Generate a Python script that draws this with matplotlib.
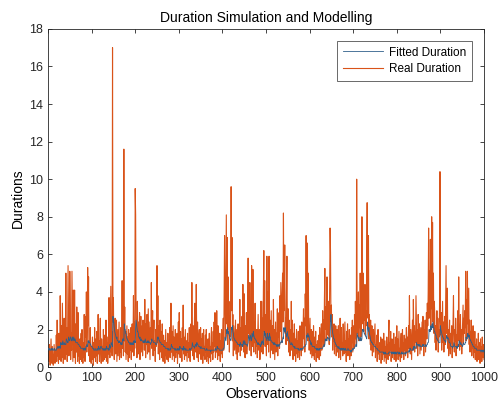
import numpy as np
import matplotlib
matplotlib.use("Agg")
import matplotlib.pyplot as plt

plt.rcParams['font.family'] = ['Liberation Sans', 'DejaVu Sans']

# real durations, observations 1..1000 (rows of 20)
real_duration = [
    0.9,0.3,1.2,0.5,0.1,0.8,1.5,0.4,0.2,1.1,0.6,0.1,0.3,1.2,0.7,0.2,0.9,0.4,1.7,0.3,
    2.5,0.6,1.4,0.2,1.8,0.9,0.4,3.8,1.1,0.3,2.2,0.5,3.4,1.6,0.2,0.8,2.6,1.3,0.4,1.9,
    5.0,0.7,2.1,0.3,1.5,5.4,2.8,0.6,1.2,5.1,3.3,0.4,1.8,0.9,5.1,2.4,0.3,4.1,1.6,0.5,
    4.1,1.2,0.2,2.3,0.8,3.2,1.4,0.3,2.9,0.6,1.1,0.2,1.5,0.4,0.9,1.8,0.3,2.0,0.7,0.2,
    1.3,0.5,2.8,0.9,0.3,2.7,1.6,4.0,0.8,1.9,5.3,2.2,4.8,0.6,1.4,0.3,2.1,0.9,0.2,1.1,
    0.4,1.6,0.7,0.1,1.3,0.5,2.1,0.8,0.3,1.5,0.6,1.9,0.2,1.0,2.8,0.7,1.4,0.3,1.8,2.6,
    0.9,0.2,1.5,0.6,1.1,0.3,2.0,0.8,0.4,1.7,0.5,1.2,2.5,0.3,0.9,1.6,0.2,1.3,0.7,3.7,
    1.1,0.5,2.2,4.3,0.8,1.9,0.6,17.0,2.4,3.7,1.0,0.4,1.8,2.6,0.7,1.4,2.5,0.3,1.1,2.0,
    0.6,1.5,2.4,0.4,1.2,0.8,2.1,0.5,1.7,4.6,1.0,3.2,0.6,11.6,1.4,3.2,0.8,1.9,0.4,1.3,
    2.2,0.7,1.6,0.3,2.0,1.1,0.5,1.8,0.9,2.1,0.4,1.5,2.3,0.8,1.2,3.8,0.6,2.4,1.0,9.5,
    8.1,2.6,1.3,0.5,3.5,1.8,0.7,2.4,1.1,2.9,0.4,1.9,2.7,0.8,1.5,2.2,0.6,2.5,1.3,2.0,
    0.9,3.6,1.6,0.5,2.3,1.2,2.8,0.7,1.9,3.1,0.8,2.4,1.3,0.4,2.1,1.5,4.5,1.0,2.2,3.0,
    0.6,1.8,2.5,0.9,1.4,0.3,2.0,1.1,2.6,5.4,1.3,3.8,0.7,2.2,1.6,0.4,2.5,1.2,0.8,1.9,
    0.5,2.3,1.0,0.3,1.7,0.8,1.4,0.2,1.1,2.0,0.6,1.3,0.4,0.9,1.8,0.3,1.2,0.7,2.1,0.5,
    1.5,3.4,0.8,1.9,0.4,1.2,2.2,0.6,1.6,0.3,1.0,2.0,0.5,1.4,0.8,1.8,0.2,1.1,2.4,0.7,
    2.9,1.3,0.5,1.9,0.9,1.5,0.3,2.1,1.0,3.3,0.7,1.6,0.4,1.2,2.0,0.6,1.4,0.9,0.3,1.8,
    0.8,1.3,0.5,2.1,1.0,0.3,1.7,2.3,0.9,4.5,1.4,0.6,2.2,1.1,0.4,2.6,3.4,1.2,0.8,4.4,
    1.9,0.5,2.4,1.0,0.3,1.6,2.0,0.7,1.2,2.1,0.4,1.5,0.9,1.8,0.2,1.3,2.0,0.6,1.1,0.4,
    1.7,0.8,2.0,0.3,1.2,0.6,1.5,0.2,0.9,1.8,0.5,1.1,0.3,1.6,2.1,0.7,1.3,0.4,1.9,0.8,
    2.4,1.1,2.9,0.5,1.5,0.8,3.0,1.2,0.4,2.2,1.6,0.6,1.0,1.8,0.3,1.4,0.7,2.0,1.1,0.5,
    1.8,2.6,0.9,4.0,7.0,3.1,1.5,4.9,8.1,2.3,6.9,1.2,4.8,2.0,3.5,0.8,2.7,1.6,3.9,9.6,
    3.0,6.9,1.4,2.8,0.6,2.2,1.5,0.9,1.8,2.5,0.7,1.3,2.0,0.4,1.6,2.3,0.8,1.9,1.2,3.6,
    0.6,2.1,1.4,0.9,2.7,1.1,4.4,1.7,0.8,3.9,1.3,0.5,2.2,1.0,2.9,0.7,1.6,3.4,5.8,1.8,
    2.5,0.9,4.5,1.4,2.0,0.6,5.4,2.3,1.1,5.2,1.7,0.8,2.4,1.3,3.4,0.7,1.9,1.1,2.0,0.5,
    1.6,2.8,0.9,1.4,2.0,0.4,1.2,3.5,0.8,3.5,1.5,2.6,0.7,4.0,6.2,1.9,4.6,1.1,2.8,1.5,
    0.6,5.9,2.3,1.2,4.0,0.8,5.9,1.6,2.5,0.5,1.9,3.0,0.9,1.4,2.2,0.7,3.6,1.3,2.0,0.4,
    1.5,2.4,0.8,1.8,1.2,3.1,0.6,2.2,1.6,2.9,1.0,3.8,1.9,4.5,2.7,1.3,3.9,5.0,2.4,8.2,
    3.0,4.1,6.5,1.8,2.6,1.2,4.0,5.9,2.2,1.4,3.1,0.8,2.5,1.7,0.6,2.0,1.3,3.5,0.9,2.5,
    1.1,0.4,1.8,0.9,2.3,0.6,1.5,0.3,1.2,2.0,0.7,1.4,0.5,1.9,0.8,1.3,0.4,2.2,1.0,1.6,
    0.6,2.4,1.3,0.9,2.0,3.1,1.5,2.6,0.8,3.9,2.2,7.0,1.7,4.3,6.6,1.4,5.0,2.1,0.9,1.8,
    2.6,0.7,1.5,2.0,0.5,1.3,1.9,0.6,2.2,1.1,0.4,1.6,0.8,1.9,0.3,1.2,0.7,1.4,0.5,1.0,
    1.7,0.4,2.1,1.2,0.6,1.6,2.3,0.9,1.4,3.0,1.8,2.5,1.1,3.6,5.25,2.0,3.2,1.5,2.6,4.8,
    2.3,1.7,3.5,2.9,1.2,4.1,7.4,6.1,2.4,3.3,1.6,2.8,0.9,2.0,1.4,2.3,0.7,1.8,1.1,2.2,
    0.6,1.5,2.0,0.8,1.3,2.2,0.5,1.7,1.0,2.6,0.4,1.6,2.1,0.9,1.3,0.6,2.3,1.1,0.7,1.5,
    2.4,0.8,1.4,0.3,1.9,1.0,2.3,0.6,1.5,0.9,2.0,0.4,1.2,1.7,0.6,2.1,1.3,2.5,0.8,1.6,
    2.2,1.0,2.8,1.5,3.5,2.0,1.2,10.0,3.2,1.8,2.6,4.0,1.4,3.3,2.1,5.0,2.7,1.6,3.8,8.0,
    4.2,2.3,5.0,1.9,3.6,2.5,4.4,1.7,3.0,2.2,6.0,8.75,3.4,2.6,7.0,1.5,2.8,2.0,1.2,2.5,
    0.9,1.8,2.2,0.6,1.5,2.0,0.8,1.3,1.9,2.3,0.5,1.2,0.9,1.7,0.3,1.4,2.0,0.7,1.1,0.4,
    1.3,0.8,1.6,0.2,1.0,1.5,0.4,1.2,0.7,1.8,0.3,0.9,1.4,0.5,1.1,0.2,1.6,0.8,1.2,0.4,
    1.7,2.5,0.6,1.3,0.9,1.9,0.3,1.1,1.5,0.5,1.4,0.8,1.8,0.4,1.2,0.7,1.6,0.3,1.0,2.2,
    0.7,1.5,0.4,1.2,1.9,0.6,1.0,0.3,1.4,1.8,0.5,1.1,2.0,0.8,1.3,0.4,1.7,0.9,1.5,0.6,
    1.2,2.1,0.8,1.6,0.5,1.3,2.2,1.0,3.8,1.4,0.7,2.0,1.1,0.4,1.8,2.5,0.9,3.6,1.5,2.2,
    0.8,1.9,1.3,3.8,2.4,1.0,2.0,0.6,2.8,1.7,1.2,2.3,0.7,1.5,2.1,0.9,1.6,2.4,1.1,2.7,
    1.4,0.6,2.0,1.2,2.5,0.8,1.8,2.9,1.5,3.4,2.2,4.0,7.4,2.6,5.1,3.3,6.8,2.0,4.4,8.0,
    3.1,7.7,2.4,5.0,1.8,3.5,2.8,1.3,2.2,0.9,1.9,3.0,1.4,2.6,0.8,2.0,1.6,3.2,10.4,2.5,
    1.7,2.9,0.9,2.1,3.5,1.3,2.4,0.8,1.9,2.7,1.2,3.3,5.4,1.8,2.2,4.2,1.0,2.0,0.6,1.5,
    2.5,1.1,0.7,1.8,1.3,2.2,0.5,1.6,2.4,3.8,1.2,0.8,2.0,1.4,2.6,0.6,1.7,1.0,2.3,3.0,
    1.4,4.8,2.2,0.9,1.6,2.8,1.1,2.0,0.7,1.5,2.4,3.3,1.3,2.6,1.8,3.0,2.1,5.1,1.4,3.6,
    2.3,5.1,1.6,2.9,4.2,1.2,2.5,0.8,1.9,1.3,2.5,0.6,1.7,1.0,2.2,0.5,1.4,0.8,1.9,0.4,
    1.2,0.7,1.5,0.3,1.1,0.6,1.8,0.4,1.3,0.9,0.2,1.5,0.7,1.1,0.3,1.6,0.8,0.5,1.2,0.4,
]

# fitted durations, same observations
fitted_duration = [
    1.0,0.9,0.9,1.0,0.9,0.9,0.9,1.0,0.9,0.9,1.0,0.9,0.9,0.9,1.0,0.9,0.9,0.9,0.9,1.0,
    1.0,1.1,1.0,1.1,1.0,1.1,1.1,1.0,1.3,1.2,1.2,1.3,1.2,1.4,1.3,1.2,1.2,1.3,1.2,1.2,
    1.2,1.5,1.4,1.4,1.3,1.3,1.6,1.5,1.4,1.4,1.6,1.6,1.5,1.4,1.4,1.6,1.5,1.4,1.6,1.5,
    1.4,1.5,1.4,1.3,1.3,1.3,1.3,1.3,1.2,1.2,1.2,1.1,1.1,1.1,1.0,1.0,1.0,1.0,1.0,1.0,
    0.9,1.0,0.9,1.0,1.0,0.9,1.1,1.1,1.2,1.1,1.1,1.4,1.3,1.4,1.3,1.3,1.2,1.2,1.1,1.1,
    1.1,1.0,1.0,1.0,0.9,0.9,0.9,1.0,0.9,0.9,0.9,0.9,1.0,0.9,0.9,1.1,1.0,1.0,0.9,1.0,
    1.1,1.1,1.0,1.0,1.0,0.9,0.9,1.0,0.9,0.9,1.0,0.9,0.9,1.1,1.0,1.0,1.0,0.9,1.0,0.9,
    1.2,1.1,1.0,1.1,1.3,1.2,1.2,1.1,2.7,2.4,2.4,2.1,1.9,1.8,1.7,1.6,1.5,1.6,1.4,1.4,
    1.4,1.3,1.3,1.4,1.3,1.3,1.2,1.3,1.2,1.2,1.5,1.4,1.5,1.4,2.3,2.0,2.0,1.8,1.8,1.6,
    1.5,1.5,1.4,1.4,1.3,1.3,1.3,1.2,1.3,1.2,1.3,1.2,1.2,1.3,1.2,1.2,1.4,1.3,1.4,1.3,
    2.1,2.5,2.3,2.1,1.9,1.9,1.8,1.6,1.6,1.5,1.6,1.4,1.4,1.5,1.4,1.4,1.4,1.3,1.4,1.3,
    1.4,1.3,1.5,1.4,1.3,1.3,1.3,1.4,1.3,1.3,1.4,1.3,1.3,1.3,1.2,1.3,1.3,1.5,1.4,1.4,
    1.4,1.3,1.3,1.3,1.3,1.3,1.2,1.2,1.2,1.3,1.6,1.5,1.6,1.5,1.4,1.4,1.3,1.3,1.3,1.2,
    1.2,1.2,1.2,1.2,1.1,1.1,1.1,1.1,1.0,1.0,1.0,1.0,1.0,1.0,0.9,1.0,0.9,0.9,0.9,1.0,
    0.9,1.0,1.2,1.1,1.1,1.0,1.0,1.0,1.0,1.0,0.9,0.9,1.0,0.9,0.9,0.9,1.0,0.9,0.9,1.0,
    0.9,1.1,1.1,1.0,1.0,1.0,1.0,0.9,1.0,0.9,1.1,1.0,1.0,0.9,0.9,1.0,0.9,0.9,0.9,0.9,
    0.9,0.9,0.9,0.9,1.0,0.9,0.9,1.0,1.0,1.0,1.3,1.2,1.1,1.1,1.1,1.0,1.1,1.2,1.2,1.1,
    1.3,1.3,1.2,1.2,1.1,1.1,1.1,1.1,1.0,1.0,1.1,1.0,1.0,1.0,1.0,1.0,1.0,1.0,1.0,0.9,
    0.9,0.9,0.9,1.0,0.9,0.9,0.9,0.9,0.9,0.9,0.9,0.9,0.8,0.9,0.9,0.9,0.9,0.9,0.9,0.9,
    0.9,0.9,0.9,1.0,0.9,0.9,0.9,1.1,1.0,1.0,1.0,1.0,0.9,0.9,0.9,0.9,0.9,0.9,0.9,0.9,
    0.9,1.0,1.0,1.0,1.3,1.6,1.5,1.4,1.6,2.0,1.8,2.1,1.8,1.9,1.7,1.7,1.5,1.5,1.4,1.5,
    2.1,2.0,2.2,1.9,1.8,1.6,1.5,1.5,1.4,1.4,1.4,1.3,1.3,1.3,1.2,1.2,1.2,1.2,1.2,1.1,
    1.3,1.2,1.2,1.2,1.1,1.2,1.1,1.4,1.3,1.2,1.4,1.3,1.2,1.2,1.2,1.2,1.1,1.2,1.3,1.7,
    1.6,1.5,1.4,1.7,1.6,1.5,1.4,1.8,1.7,1.6,1.9,1.7,1.6,1.5,1.5,1.5,1.4,1.4,1.3,1.3,
    1.2,1.2,1.3,1.2,1.2,1.2,1.1,1.1,1.3,1.2,1.4,1.3,1.3,1.2,1.5,1.9,1.7,1.8,1.6,1.6,
    1.5,1.4,1.8,1.7,1.5,1.6,1.4,1.8,1.6,1.6,1.4,1.4,1.4,1.3,1.3,1.3,1.2,1.3,1.2,1.3,
    1.2,1.2,1.2,1.1,1.2,1.1,1.2,1.1,1.2,1.1,1.2,1.2,1.3,1.3,1.4,1.4,1.3,1.5,1.6,1.5,
    2.1,1.9,1.9,2.1,1.8,1.8,1.6,1.7,1.9,1.7,1.5,1.6,1.4,1.4,1.3,1.2,1.2,1.2,1.3,1.2,
    1.2,1.1,1.1,1.1,1.0,1.1,1.0,1.0,1.0,1.0,1.0,1.0,1.0,0.9,1.0,0.9,0.9,0.9,1.0,0.9,
    1.0,0.9,1.0,1.0,1.0,1.0,1.1,1.1,1.1,1.1,1.2,1.2,1.7,1.6,1.6,1.8,1.6,1.7,1.6,1.4,
    1.4,1.4,1.2,1.3,1.2,1.1,1.1,1.1,1.1,1.1,1.1,1.0,1.0,1.0,1.0,0.9,1.0,0.9,1.0,0.9,
    0.9,1.0,0.9,1.0,1.0,1.0,1.0,1.0,1.0,1.0,1.1,1.1,1.2,1.1,1.2,1.5,1.4,1.5,1.4,1.4,
    1.6,1.6,1.5,1.5,1.5,1.4,1.6,2.5,2.8,2.4,2.2,2.0,1.8,1.7,1.5,1.5,1.5,1.3,1.3,1.2,
    1.2,1.1,1.1,1.1,1.0,1.0,1.1,1.0,1.0,0.9,1.0,0.9,1.0,1.0,0.9,1.0,0.9,1.0,1.0,0.9,
    0.9,1.0,0.9,0.9,0.9,0.9,0.9,1.0,0.9,0.9,0.9,0.9,0.9,0.8,0.9,0.8,0.9,0.9,1.0,0.9,
    1.0,1.0,1.0,1.1,1.1,1.2,1.2,1.1,1.8,1.7,1.6,1.5,1.6,1.4,1.5,1.4,1.6,1.5,1.4,1.5,
    2.0,2.0,1.9,2.0,1.8,1.8,1.7,1.7,1.6,1.6,1.5,1.8,2.4,2.1,1.9,2.1,1.8,1.7,1.6,1.4,
    1.4,1.3,1.3,1.3,1.2,1.2,1.2,1.1,1.1,1.1,1.1,1.0,1.0,1.0,1.0,0.9,0.9,0.9,0.9,0.8,
    0.8,0.8,0.8,0.8,0.8,0.8,0.8,0.8,0.8,0.7,0.8,0.7,0.7,0.8,0.7,0.7,0.7,0.7,0.7,0.7,
    0.7,0.8,0.8,0.8,0.8,0.8,0.8,0.7,0.8,0.8,0.7,0.8,0.7,0.8,0.7,0.8,0.7,0.8,0.7,0.7,
    0.8,0.8,0.8,0.7,0.7,0.8,0.7,0.7,0.7,0.7,0.8,0.7,0.7,0.8,0.7,0.7,0.7,0.7,0.8,0.7,
    0.7,0.8,0.8,0.8,0.8,0.8,0.8,0.9,0.8,1.0,1.0,0.9,0.9,0.9,0.9,0.9,1.0,0.9,1.1,1.0,
    1.1,1.0,1.0,1.0,1.3,1.2,1.2,1.2,1.1,1.2,1.2,1.1,1.2,1.1,1.1,1.1,1.1,1.1,1.2,1.1,
    1.2,1.2,1.1,1.1,1.1,1.2,1.1,1.1,1.2,1.2,1.3,1.3,1.4,2.0,1.9,2.0,1.9,2.2,2.0,2.0,
    2.3,2.1,2.4,2.1,2.1,1.9,1.9,1.8,1.7,1.7,1.5,1.5,1.5,1.4,1.4,1.3,1.3,1.3,1.3,2.2,
    2.0,1.9,1.8,1.7,1.6,1.6,1.5,1.5,1.4,1.4,1.4,1.3,1.4,1.7,1.6,1.5,1.6,1.5,1.5,1.3,
    1.3,1.3,1.2,1.1,1.1,1.1,1.1,1.0,1.1,1.1,1.3,1.2,1.1,1.1,1.1,1.1,1.0,1.1,1.0,1.1,
    1.2,1.1,1.4,1.4,1.3,1.2,1.3,1.2,1.2,1.1,1.1,1.2,1.3,1.2,1.2,1.2,1.3,1.3,1.6,1.5,
    1.5,1.5,1.8,1.6,1.6,1.7,1.5,1.5,1.4,1.4,1.3,1.3,1.2,1.2,1.1,1.1,1.1,1.0,1.0,1.0,
    1.0,1.0,0.9,0.9,0.9,0.9,0.9,0.9,0.9,0.9,0.9,0.9,0.8,0.9,0.9,0.8,0.9,0.9,0.8,0.9,
]

obs = np.arange(1, len(real_duration) + 1)

fig = plt.figure(figsize=(5.0, 4.12), dpi=100)
ax = fig.add_axes([0.096, 0.109, 0.872, 0.821])

# matlab default colours; fitted kept on top so it shows through the orange
l1, = ax.plot(obs, fitted_duration, color='#2f5f8a', lw=0.6, zorder=3, label='Fitted Duration')
l2, = ax.plot(obs, real_duration, color='#D95319', lw=0.8, zorder=2, label='Real Duration')

ax.set_xlim(0, 1000)
ax.set_ylim(0, 18)
ax.set_xticks(np.arange(0, 1001, 100))
ax.set_yticks(np.arange(0, 19, 2))
ax.tick_params(direction='in', top=True, right=True, labelsize=9, colors='#262626',
               length=3, width=0.6)
for s in ax.spines.values():
    s.set_color('#262626')
    s.set_linewidth(0.6)

ax.set_title('Duration Simulation and Modelling', fontsize=10, pad=5)
ax.set_xlabel('Observations', fontsize=10, labelpad=2)
ax.set_ylabel('Durations', fontsize=10, labelpad=3)

leg = ax.legend(handles=[l1, l2], loc='upper right', fontsize=8.5, fancybox=False,
                edgecolor='#262626', borderaxespad=1.0, handlelength=3.4,
                labelspacing=0.4, borderpad=0.5, handletextpad=0.5)
leg.get_frame().set_linewidth(0.6)

fig.savefig('out.png', dpi=100)
